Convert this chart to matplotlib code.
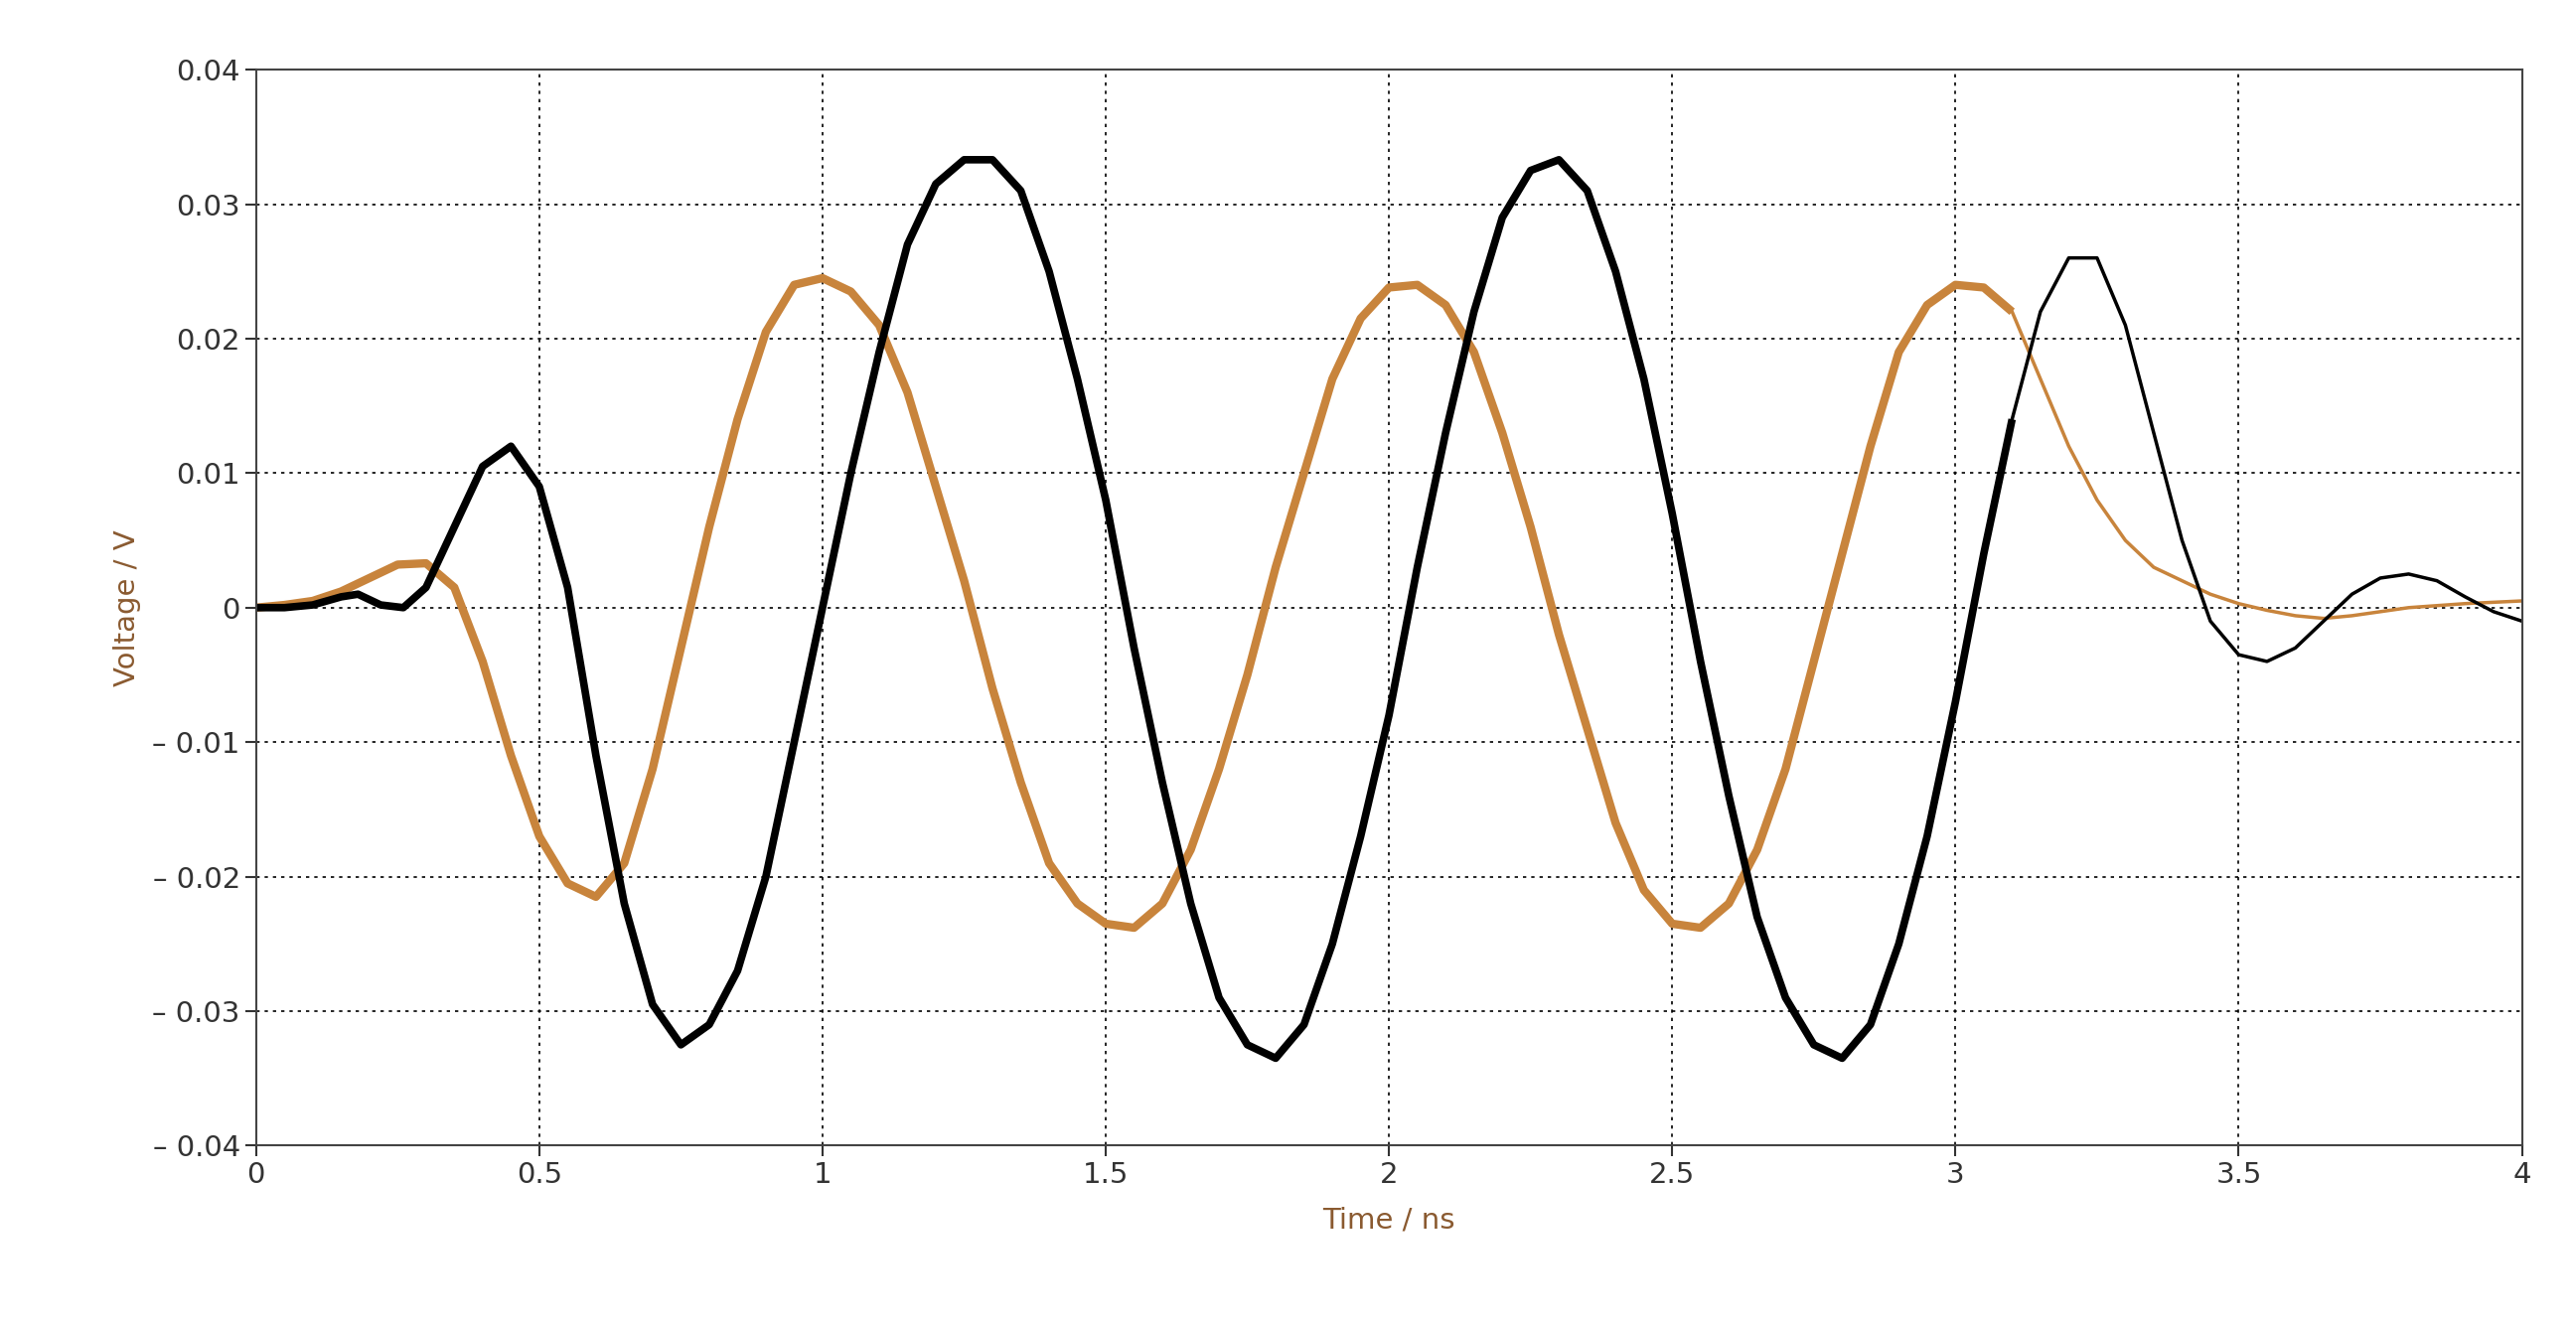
import numpy as np
import matplotlib
matplotlib.use('Agg')
import matplotlib.pyplot as plt

# black trace (time in ns, voltage in V)
t_black = [0, 0.05, 0.1, 0.15, 0.18, 0.22, 0.26, 0.3, 0.35, 0.4, 0.45,
           0.5, 0.55, 0.6, 0.65, 0.7, 0.75, 0.8, 0.85, 0.9, 0.95, 1.0, 1.05, 1.1, 1.15, 1.2, 1.25, 1.3, 1.35,
           1.4, 1.45, 1.5, 1.55, 1.6, 1.65, 1.7, 1.75, 1.8, 1.85, 1.9, 1.95, 2.0, 2.05, 2.1, 2.15, 2.2, 2.25,
           2.3, 2.35, 2.4, 2.45, 2.5, 2.55, 2.6, 2.65, 2.7, 2.75, 2.8, 2.85, 2.9, 2.95, 3.0, 3.05, 3.1, 3.15,
           3.2, 3.25, 3.3, 3.35, 3.4, 3.45, 3.5, 3.55, 3.6, 3.65, 3.7, 3.75, 3.8, 3.85, 3.9, 3.95, 4.0]
v_black = [0, 0, 0.0002, 0.0008, 0.001, 0.0002, 0.0, 0.0015, 0.006, 0.0105, 0.012,
           0.009, 0.0015, -0.011, -0.022, -0.0295, -0.0325, -0.031, -0.027, -0.020, -0.010, 0.0, 0.010,
           0.019, 0.027, 0.0315, 0.0333, 0.0333, 0.031, 0.025, 0.017, 0.008, -0.003, -0.013, -0.022, -0.029,
           -0.0325, -0.0335, -0.031, -0.025, -0.017, -0.008, 0.003, 0.013, 0.022, 0.029, 0.0325, 0.0333,
           0.031, 0.025, 0.017, 0.007, -0.004, -0.014, -0.023, -0.029, -0.0325, -0.0335, -0.031, -0.025,
           -0.017, -0.007, 0.004, 0.014, 0.022, 0.026, 0.026, 0.021, 0.013, 0.005, -0.001, -0.0035, -0.004,
           -0.003, -0.001, 0.001, 0.0022, 0.0025, 0.002, 0.0008, -0.0003, -0.001]

# orange trace
t_orange = [0, 0.05, 0.1, 0.15, 0.2, 0.25, 0.3, 0.35, 0.4, 0.45, 0.5, 0.55, 0.6, 0.65, 0.7, 0.75, 0.8, 0.85,
            0.9, 0.95, 1.0, 1.05, 1.1, 1.15, 1.2, 1.25, 1.3, 1.35, 1.4, 1.45, 1.5, 1.55, 1.6, 1.65, 1.7, 1.75,
            1.8, 1.85, 1.9, 1.95, 2.0, 2.05, 2.1, 2.15, 2.2, 2.25, 2.3, 2.35, 2.4, 2.45, 2.5, 2.55, 2.6, 2.65,
            2.7, 2.75, 2.8, 2.85, 2.9, 2.95, 3.0, 3.05, 3.1, 3.15, 3.2, 3.25, 3.3, 3.35, 3.4, 3.45, 3.5, 3.55,
            3.6, 3.65, 3.7, 3.75, 3.8, 3.9, 4.0]
v_orange = [0, 0.0002, 0.0005, 0.0012, 0.0022, 0.0032, 0.0033, 0.0015, -0.004, -0.011, -0.017, -0.0205,
            -0.0215, -0.019, -0.012, -0.003, 0.006, 0.014, 0.0205, 0.024, 0.0245, 0.0235, 0.021, 0.016, 0.009,
            0.002, -0.006, -0.013, -0.019, -0.022, -0.0235, -0.0238, -0.022, -0.018, -0.012, -0.005, 0.003,
            0.010, 0.017, 0.0215, 0.0238, 0.024, 0.0225, 0.019, 0.013, 0.006, -0.002, -0.009, -0.016, -0.021,
            -0.0235, -0.0238, -0.022, -0.018, -0.012, -0.004, 0.004, 0.012, 0.019, 0.0225, 0.024, 0.0238,
            0.022, 0.017, 0.012, 0.008, 0.005, 0.003, 0.002, 0.001, 0.0003, -0.0002, -0.0006, -0.0008,
            -0.0006, -0.0003, 0.0, 0.0003, 0.0005]

xticks = [0, 0.5, 1, 1.5, 2, 2.5, 3, 3.5, 4]
xlabels = ['0', '0.5', '1', '1.5', '2', '2.5', '3', '3.5', '4']
yticks = [-0.04, -0.03, -0.02, -0.01, 0, 0.01, 0.02, 0.03, 0.04]
ylabels = ['\u2013 0.04', '\u2013 0.03', '\u2013 0.02', '\u2013 0.01', '0', '0.01', '0.02', '0.03', '0.04']

orange = '#C8843C'
labcol = '#8A5A30'

fig = plt.figure(figsize=(25.93, 13.35), dpi=100)
ax = fig.add_axes([0.0994, 0.136, 0.8796, 0.8115])

tb = np.array(t_black); vb = np.array(v_black)
to = np.array(t_orange); vo = np.array(v_orange)
# noisy (thick) part, then clean thin tail
m = to <= 3.1
ax.plot(to[m], vo[m], color=orange, lw=6, solid_capstyle='butt')
m2 = to >= 3.1
ax.plot(to[m2], vo[m2], color=orange, lw=2.5)
m = tb <= 3.1
ax.plot(tb[m], vb[m], color='black', lw=5.5, solid_capstyle='butt')
m2 = tb >= 3.1
ax.plot(tb[m2], vb[m2], color='black', lw=2.5)

ax.set_xlim(0, 4)
ax.set_ylim(-0.04, 0.04)
ax.set_xticks(xticks)
ax.set_xticklabels(xlabels)
ax.set_yticks(yticks)
ax.set_yticklabels(ylabels)
ax.tick_params(labelsize=21, colors='#333333', length=8, width=1.5)
ax.grid(True, color='black', linestyle=(0, (2, 3)), linewidth=1.2)
for s in ax.spines.values():
    s.set_color('#444444')
    s.set_linewidth(1.5)
ax.set_xlabel('Time / ns', fontsize=21, color=labcol, labelpad=12)
ax.set_ylabel('Voltage / V', fontsize=21, color=labcol, labelpad=8)

fig.savefig('out.png')
